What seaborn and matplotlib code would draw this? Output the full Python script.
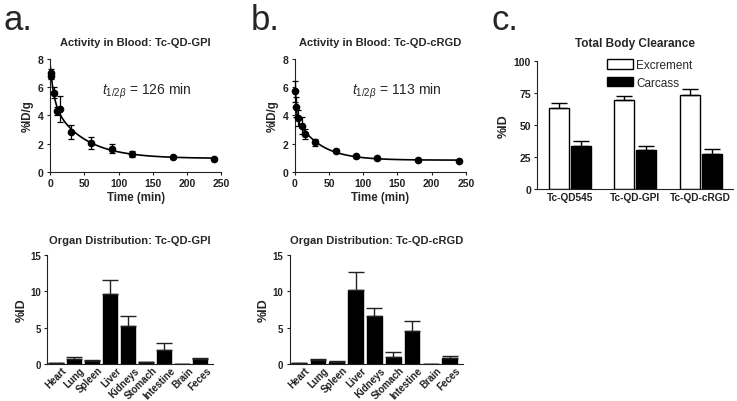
import numpy as np
import pandas as pd
import matplotlib
matplotlib.use("Agg")
import matplotlib.pyplot as plt
import matplotlib.transforms as mtransforms
import seaborn as sns

# blood activity (%ID/g) vs time
blood_time = [1, 2, 5, 10, 15, 30, 60, 90, 120, 180, 240]
gpi_blood = [7.0, 6.8, 5.6, 4.3, 4.45, 2.85, 2.05, 1.65, 1.25, 1.05, 0.9]
gpi_blood_err = [0.3, 0.25, 0.4, 0.3, 0.9, 0.5, 0.45, 0.3, 0.2, 0.1, 0.05]
crgd_blood = [5.7, 4.6, 3.8, 3.25, 2.65, 2.1, 1.5, 1.1, 0.95, 0.85, 0.75]
crgd_blood_err = [0.75, 0.7, 0.55, 0.6, 0.35, 0.25, 0.12, 0.1, 0.08, 0.06, 0.05]
half_lives = [126, 113]

# organ distribution (%ID)
organs = ["Heart", "Lung", "Spleen", "Liver", "Kidneys", "Stomach", "Intestine", "Brain", "Feces"]
gpi_organ = [0.1, 0.7, 0.45, 9.6, 5.2, 0.25, 1.95, 0.05, 0.65]
gpi_organ_err = [0.03, 0.25, 0.1, 1.9, 1.4, 0.05, 0.95, 0.02, 0.15]
crgd_organ = [0.1, 0.6, 0.3, 10.2, 6.6, 0.9, 4.5, 0.05, 0.8]
crgd_organ_err = [0.05, 0.15, 0.1, 2.5, 1.1, 0.8, 1.4, 0.02, 0.35]

# total body clearance (%ID)
agents = ["Tc-QD545", "Tc-QD-GPI", "Tc-QD-cRGD"]
excrement = [63.5, 69.5, 73.5]
excrement_err = [3.5, 3.5, 4.5]
carcass = [34, 30.5, 27.5]
carcass_err = [3.5, 3.5, 4.0]

sns.set_style("ticks")
plt.rcParams["font.family"] = ["Liberation Sans", "DejaVu Sans"]
plt.rcParams["mathtext.fontset"] = "custom"
plt.rcParams["mathtext.rm"] = "Liberation Sans"
plt.rcParams["mathtext.it"] = "Liberation Sans:italic"
plt.rcParams["axes.edgecolor"] = "#222222"
plt.rcParams["xtick.color"] = "#222222"
plt.rcParams["ytick.color"] = "#222222"


def fit_biexp(t, y):
    # brute-force biexponential + plateau fit
    t = np.asarray(t, float)
    y = np.asarray(y, float)
    best = None
    for a in np.logspace(-2, 0.5, 50):
        for b in np.logspace(-3.5, -1.5, 50):
            if b >= a:
                continue
            M = np.column_stack([np.exp(-a * t), np.exp(-b * t), np.ones_like(t)])
            coef = np.linalg.lstsq(M, y, rcond=None)[0]
            err = np.sum((M @ coef - y) ** 2)
            if best is None or err < best[0]:
                best = (err, a, b, coef)
    _, a, b, c = best
    return lambda tt: c[0] * np.exp(-a * tt) + c[1] * np.exp(-b * tt) + c[2]


def style_ax(ax, size=7.5):
    sns.despine(ax=ax)
    ax.tick_params(labelsize=size, length=2.5, width=0.8, pad=2)
    for lab in ax.get_xticklabels() + ax.get_yticklabels():
        lab.set_fontweight("bold")


def blood_panel(ax, y, yerr, title, thalf, tx):
    f = fit_biexp(blood_time, y)
    tt = np.linspace(0, 240, 400)
    sns.lineplot(x=tt, y=f(tt), ax=ax, color="black", lw=1.2)
    ax.errorbar(blood_time, y, yerr=yerr, fmt="o", color="black", ms=4.5,
                capsize=2.5, elinewidth=0.9, capthick=0.9, clip_on=False, zorder=3)
    ax.set_xlim(0, 250)
    ax.set_ylim(0, 8)
    ax.set_xticks(range(0, 251, 50))
    ax.set_yticks(range(0, 9, 2))
    ax.set_xlabel("Time (min)", fontsize=8.3, fontweight="bold", labelpad=2)
    ax.set_ylabel("%ID/g", fontsize=8.3, fontweight="bold", labelpad=3)
    ax.set_title(title, fontsize=8, fontweight="bold", pad=10)
    ax.text(tx, 5.55, r"$t_{1/2\beta}$" + f" = {thalf} min", fontsize=10)
    style_ax(ax)


def organ_panel(ax, y, yerr, title):
    df = pd.DataFrame({"organ": organs, "val": y})
    sns.barplot(data=df, x="organ", y="val", ax=ax, color="black",
                edgecolor="black", width=0.78, errorbar=None)
    ax.errorbar(range(len(organs)), y, yerr=[np.zeros(len(yerr)), yerr], fmt="none",
                ecolor="#222222", capsize=6, elinewidth=1, capthick=1)
    ax.set_xlim(-0.5, 8.7)
    ax.set_ylim(0, 15)
    ax.set_yticks([0, 5, 10, 15])
    ax.set_xlabel("")
    ax.set_ylabel("%ID", fontsize=9, fontweight="bold", labelpad=2)
    ax.set_title(title, fontsize=8, fontweight="bold", pad=9)
    style_ax(ax, 7)
    ax.tick_params(axis="x", length=0, pad=0.5, labelsize=7)
    shift = mtransforms.ScaledTranslation(4 / 72, 0, fig.dpi_scale_trans)
    for lab in ax.get_xticklabels():
        lab.set_rotation(45)
        lab.set_ha("right")
        lab.set_rotation_mode("anchor")
        lab.set_transform(lab.get_transform() + shift)


fig = plt.figure(figsize=(7.37, 4.02), dpi=100)

ax_a = fig.add_axes([0.068, 0.570, 0.232, 0.281])
ax_b = fig.add_axes([0.400, 0.570, 0.232, 0.281])
ax_c = fig.add_axes([0.729, 0.527, 0.266, 0.319])
ax_d = fig.add_axes([0.064, 0.092, 0.225, 0.271])
ax_e = fig.add_axes([0.393, 0.092, 0.235, 0.271])

blood_panel(ax_a, gpi_blood, gpi_blood_err, "Activity in Blood: Tc-QD-GPI", half_lives[0], 76)
blood_panel(ax_b, crgd_blood, crgd_blood_err, "Activity in Blood: Tc-QD-cRGD", half_lives[1], 83)
organ_panel(ax_d, gpi_organ, gpi_organ_err, "Organ Distribution: Tc-QD-GPI")
organ_panel(ax_e, crgd_organ, crgd_organ_err, "Organ Distribution: Tc-QD-cRGD")

# clearance
clr = pd.DataFrame({
    "agent": agents * 2,
    "kind": ["Excrement"] * 3 + ["Carcass"] * 3,
    "val": excrement + carcass,
})
sns.barplot(data=clr, x="agent", y="val", hue="kind", ax=ax_c,
            palette={"Excrement": "white", "Carcass": "black"},
            edgecolor="black", linewidth=1, width=0.68, gap=0.1, errorbar=None)
for cont, errs in zip(ax_c.containers, [excrement_err, carcass_err]):
    xs = [p.get_x() + p.get_width() / 2 for p in cont]
    hs = [p.get_height() for p in cont]
    ax_c.errorbar(xs, hs, yerr=[np.zeros(3), errs], fmt="none", ecolor="black",
                  capsize=6, elinewidth=1, capthick=1)
ax_c.set_xlim(-0.5, 2.5)
ax_c.set_ylim(0, 100)
ax_c.set_yticks([0, 25, 50, 75, 100])
ax_c.set_xlabel("")
ax_c.set_ylabel("%ID", fontsize=9, fontweight="bold", labelpad=3)
ax_c.set_title("Total Body Clearance", fontsize=8.5, fontweight="bold", pad=11)
style_ax(ax_c)
ax_c.tick_params(axis="x", length=0, labelsize=7.3)
ax_c.legend(title=None, frameon=False, loc="upper left", bbox_to_anchor=(0.33, 1.05),
            fontsize=8.5, handlelength=2.2, handleheight=0.9, handletextpad=0.3,
            borderaxespad=0, labelspacing=0.45)

fig.text(0.005, 0.925, "a.", fontsize=25)
fig.text(0.340, 0.925, "b.", fontsize=25)
fig.text(0.667, 0.925, "c.", fontsize=25)

fig.savefig("out.png", dpi=100)
